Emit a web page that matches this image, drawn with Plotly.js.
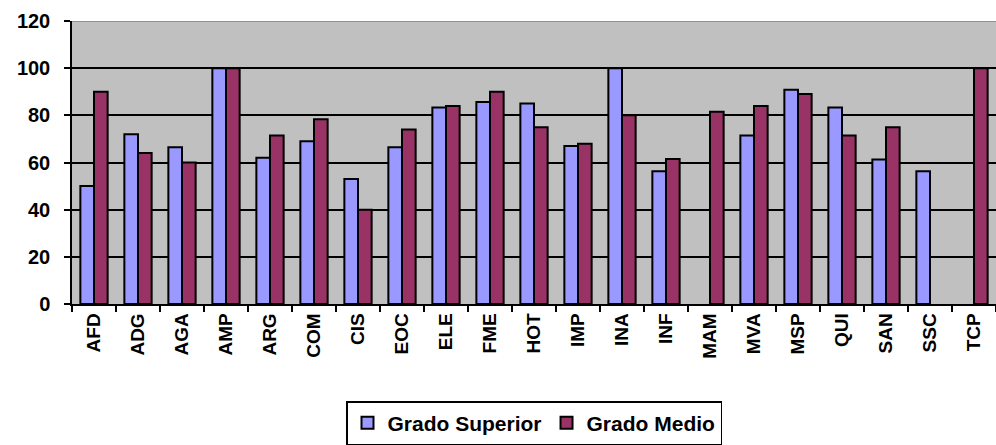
<!DOCTYPE html>
<html><head><meta charset="utf-8">
<script src="https://cdn.plot.ly/plotly-3.0.1.min.js"></script>
<style>body{margin:0;background:#fff}#c{width:996px;height:445px}</style>
</head><body><div id="c"></div>
<script>
const categories = ["AFD","ADG","AGA","AMP","ARG","COM","CIS","EOC","ELE","FME","HOT","IMP","INA","INF","MAM","MVA","MSP","QUI","SAN","SSC","TCP"];
const gradoSuperior = [50, 72, 66.5, 100, 62, 69, 53, 66.5, 83.3, 85.7, 85, 67, 100, 56.3, null, 71.4, 90.9, 83.3, 61.3, 56.3, null];
const gradoMedio = [90, 64, 60, 100, 71.4, 78.3, 40, 74, 84, 90, 75, 68, 80, 61.5, 81.5, 84, 89, 71.4, 75, null, 100];
const yTicks = [0, 20, 40, 60, 80, 100, 120];
const seriesNames = ["Grado Superior", "Grado Medio"];

const FONT = "Liberation Sans, Arial, sans-serif";
const traces = [
  {type:"bar", name:"<b>" + seriesNames[0] + "</b>", x:categories, y:gradoSuperior,
   marker:{color:"#9999FF", line:{color:"#000", width:2}}},
  {type:"bar", name:"<b>" + seriesNames[1] + "</b>", x:categories, y:gradoMedio,
   marker:{color:"#993366", line:{color:"#000", width:2}}}
];
const layout = {
  width:996, height:445,
  margin:{l:72, r:0, t:21, b:139},
  paper_bgcolor:"#fff", plot_bgcolor:"#C0C0C0",
  barmode:"group", bargap:0.38, bargroupgap:0,
  font:{family:FONT, color:"#000"},
  xaxis:{type:"category", tickangle:-90, tickson:"boundaries", ticks:"outside", ticklen:6, tickcolor:"#000", tickwidth:1.5,
    tickvals:categories, ticktext:categories.map(c => "<b>" + c + "</b>"),
    showline:true, linecolor:"#000", linewidth:1.5, showgrid:false,
    tickfont:{size:19, family:FONT}},
  yaxis:{range:[0,120], tickvals:yTicks, ticktext:yTicks.map(v => "<b>" + v + "</b>"),
    ticks:"outside", ticklen:6, tickcolor:"#000", tickwidth:1.5, ticklabelstandoff:10,
    showline:true, linecolor:"#000", linewidth:1.5, showgrid:true, gridcolor:"#000", gridwidth:1.5,
    zeroline:false, tickfont:{size:20, family:FONT}},
  shapes:[{type:"line", xref:"paper", yref:"y", x0:0, x1:1, y0:120, y1:120, line:{color:"#808080", width:1.5}}],
  legend:{orientation:"h", x:0.5, xanchor:"center", y:-0.344, yanchor:"top",
    bordercolor:"#000", borderwidth:1.5, bgcolor:"#fff",
    font:{size:21, family:FONT}, traceorder:"normal", itemwidth:30}
};
Plotly.newPlot("c", traces, layout, {displayModeBar:false});
</script></body></html>
